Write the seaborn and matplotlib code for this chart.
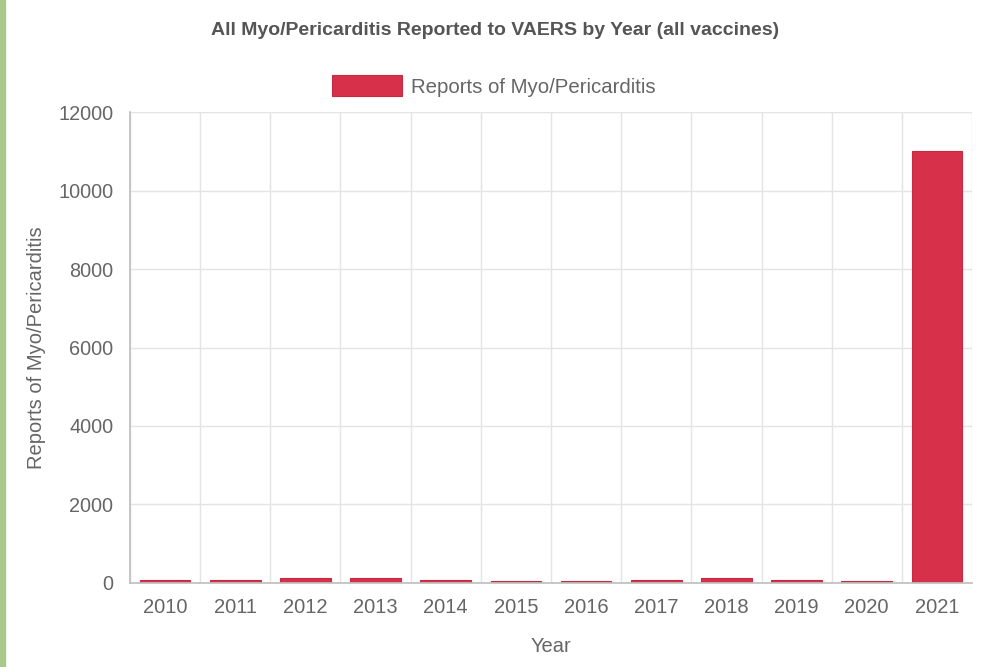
import numpy as np
import pandas as pd
import seaborn as sns
import matplotlib.pyplot as plt
from matplotlib.patches import Rectangle

# values (small years estimated)
years = ['2010', '2011', '2012', '2013', '2014', '2015', '2016', '2017', '2018', '2019', '2020', '2021']
reports = [70, 75, 130, 125, 70, 40, 55, 65, 130, 70, 50, 11000]
yticks = [0, 2000, 4000, 6000, 8000, 10000, 12000]

df = pd.DataFrame({'Year': years, 'Reports': reports})

sns.set_theme(style='white')
plt.rcParams['font.family'] = ['Liberation Sans', 'DejaVu Sans']

bar_color = '#d7304b'
text_color = '#666666'
grid_color = '#e4e4e4'

fig = plt.figure(figsize=(10, 6.67), dpi=100)
ax = fig.add_axes([0.13, 0.126, 0.842, 0.706])

sns.barplot(data=df, x='Year', y='Reports', color=bar_color, width=0.72,
            edgecolor='#c42a42', linewidth=0.8, saturation=1, ax=ax,
            label='Reports of Myo/Pericarditis')

ax.set_ylim(0, 12000)
ax.set_xlim(-0.5, len(years) - 0.5)
ax.set_yticks(yticks)
ax.set_yticklabels([str(v) for v in yticks])

# vertical grid at category boundaries, like chart.js
ax.set_xticks(np.arange(-0.5, len(years), 1.0), minor=True)
ax.grid(True, which='minor', axis='x', color=grid_color, linewidth=1)
ax.grid(True, which='major', axis='y', color=grid_color, linewidth=1)
ax.set_axisbelow(True)
ax.tick_params(axis='x', which='major', length=0, pad=11, labelsize=14.5, labelcolor=text_color)
ax.tick_params(axis='x', which='minor', length=11, color=grid_color, width=1)
ax.tick_params(axis='y', length=7, color=grid_color, width=1, labelsize=14.3, labelcolor=text_color, pad=5)

for side in ['top', 'right']:
    ax.spines[side].set_visible(False)
ax.spines['left'].set_color('#c0c0c0')
ax.spines['bottom'].set_color('#c0c0c0')

ax.set_xlabel('Year', fontsize=14.5, color=text_color, labelpad=14)
ax.set_ylabel('Reports of Myo/Pericarditis', fontsize=14.5, color=text_color, labelpad=9)

fig.text(0.495, 0.955, 'All Myo/Pericarditis Reported to VAERS by Year (all vaccines)',
         ha='center', va='center', fontsize=14, fontweight='bold', color='#555555')

leg = ax.legend(loc='center', bbox_to_anchor=(0.494, 0.871), bbox_transform=fig.transFigure,
                frameon=False, fontsize=14.7, handlelength=3.4, handleheight=1.2,
                handletextpad=0.45, labelcolor=text_color)

# thin green strip on the left edge of the screenshot
fig.patches.append(Rectangle((0, 0), 0.005, 1, transform=fig.transFigure,
                             color='#a9c98a', zorder=0))

fig.savefig('out.png', dpi=100)
